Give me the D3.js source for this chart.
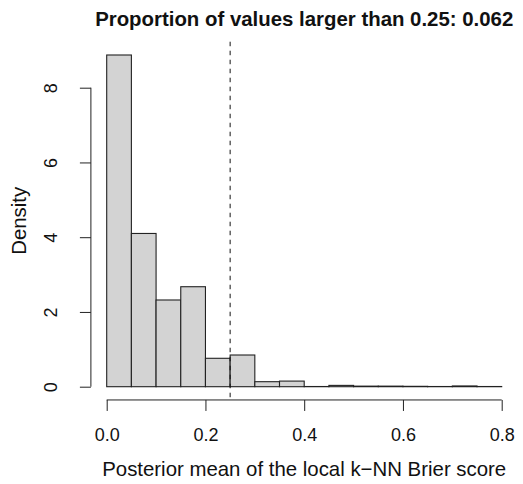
<!DOCTYPE html>
<html>
<head>
<meta charset="utf-8">
<script src="https://cdn.jsdelivr.net/npm/d3@7"></script>
<style>
  html, body { margin: 0; padding: 0; background: #fff; }
  svg { display: block; font-family: "Liberation Sans", Arial, Helvetica, sans-serif; }
</style>
</head>
<body>
<svg id="chart" width="523" height="484"></svg>
<script>
// Histogram breaks (bin edges) and density per bin
const breaks = [0, 0.05, 0.1, 0.15, 0.2, 0.25, 0.3, 0.35, 0.4, 0.45, 0.5, 0.55, 0.6, 0.65, 0.7, 0.75, 0.8];
const density = [8.875, 4.10, 2.32, 2.675, 0.76, 0.848, 0.134, 0.15, 0.005, 0.035, 0.015, 0.015, 0.01, 0.005, 0.02, 0.005];
const xTicks = [0, 0.2, 0.4, 0.6, 0.8];
const yTicks = [0, 2, 4, 6, 8];
const threshold = 0.25;
const titleText = "Proportion of values larger than 0.25: 0.062";
const xTitle = "Posterior mean of the local k\u2212NN Brier score";
const yTitle = "Density";

const bins = density.map((d, i) => ({ x0: breaks[i], x1: breaks[i + 1], d }));

const svg = d3.select("#chart");

// Plot region with 4% padding around the data range
const x = d3.scaleLinear().domain([0, 0.8]).range([106.7, 501.7]);
const y = d3.scaleLinear().domain([0, 8]).range([386.7, 87.7]);
const xPad = 0.04 * 0.8, yPad = 0.04 * d3.max(density);
const plotLeft = x(-xPad), plotBottom = y(-yPad), plotTop = y(d3.max(density) + yPad);

// Bars
svg.append("g")
  .selectAll("rect")
  .data(bins)
  .join("rect")
  .attr("x", d => x(d.x0))
  .attr("width", d => x(d.x1) - x(d.x0))
  .attr("y", d => y(d.d))
  .attr("height", d => y(0) - y(d.d))
  .attr("fill", "#d3d3d3")
  .attr("stroke", "#222")
  .attr("stroke-width", 1.1);

// Threshold line
svg.append("line")
  .attr("x1", x(threshold)).attr("x2", x(threshold))
  .attr("y1", plotTop).attr("y2", plotBottom)
  .attr("stroke", "#111")
  .attr("stroke-width", 1)
  .attr("stroke-dasharray", "4.5,4.5");

// X axis
const xAxis = d3.axisBottom(x)
  .tickValues(xTicks)
  .tickFormat(d3.format(".1f"))
  .tickSizeOuter(0)
  .tickSizeInner(11)
  .tickPadding(17);
const gx = svg.append("g")
  .attr("transform", `translate(0,${plotBottom})`)
  .call(xAxis);
gx.select(".domain").attr("d", `M${x(0)},0H${x(0.8)}`).attr("stroke", "#222");
gx.selectAll(".tick line").attr("stroke", "#222");
gx.selectAll(".tick text")
  .attr("font-size", 18).attr("fill", "#111")
  .attr("font-family", "Liberation Sans, Arial, sans-serif");

// Y axis
const yAxis = d3.axisLeft(y)
  .tickValues(yTicks)
  .tickSizeOuter(0)
  .tickSizeInner(11)
  .tickPadding(8);
const gy = svg.append("g")
  .attr("transform", `translate(${plotLeft},0)`)
  .call(yAxis);
gy.select(".domain").attr("d", `M0,${y(0)}V${y(8)}`).attr("stroke", "#222");
gy.selectAll(".tick line").attr("stroke", "#222");
gy.selectAll(".tick text")
  .attr("font-size", 18).attr("fill", "#111")
  .attr("font-family", "Liberation Sans, Arial, sans-serif")
  .attr("x", null).attr("dy", null)
  .attr("text-anchor", "middle")
  .attr("transform", `translate(${57 - plotLeft},0) rotate(-90)`);

// Titles
svg.append("text")
  .attr("x", (plotLeft + x(0.8 + xPad)) / 2)
  .attr("y", 26)
  .attr("text-anchor", "middle")
  .attr("font-size", 20.4)
  .attr("font-weight", "bold")
  .attr("fill", "#111")
  .text(titleText);

svg.append("text")
  .attr("x", (plotLeft + x(0.8 + xPad)) / 2)
  .attr("y", 476)
  .attr("text-anchor", "middle")
  .attr("font-size", 20.4)
  .attr("fill", "#111")
  .text(xTitle);

svg.append("text")
  .attr("transform", `translate(26,${(plotTop + plotBottom) / 2}) rotate(-90)`)
  .attr("text-anchor", "middle")
  .attr("font-size", 20.4)
  .attr("fill", "#111")
  .text(yTitle);
</script>
</body>
</html>
